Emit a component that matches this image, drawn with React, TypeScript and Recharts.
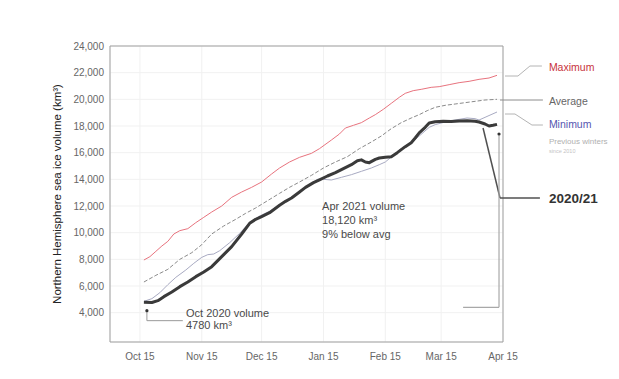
import React from 'react';
import {
    LineChart,
    Line,
    XAxis,
    YAxis,
    CartesianGrid,
    ReferenceArea,
    ReferenceLine,
    ReferenceDot,
} from 'recharts';

// x = days after Oct 15, y = km³
const monthTicks = [0, 31, 61, 92, 123, 151, 182];
const monthLabels = ['Oct 15', 'Nov 15', 'Dec 15', 'Jan 15', 'Feb 15', 'Mar 15', 'Apr 15'];
const volumeTicks = [4000, 6000, 8000, 10000, 12000, 14000, 16000, 18000, 20000, 22000, 24000];

const seasonDays = [2, 6, 9, 12, 16, 20, 24, 28, 32, 36, 41, 46, 51, 55, 58, 61, 65, 70, 73, 76, 80, 83, 87, 90, 94, 98, 102, 106, 109, 111, 113, 115, 118, 120, 123, 126, 129, 133, 136, 138, 140, 143, 145, 148, 152, 156, 160, 164, 168, 170, 173, 175, 177, 179];
const seasonVolume = [4780, 4760, 4900, 5200, 5550, 5950, 6300, 6700, 7050, 7450, 8200, 8950, 9900, 10700, 11000, 11200, 11500, 12050, 12350, 12600, 13050, 13400, 13750, 13960, 14250, 14500, 14800, 15100, 15400, 15460, 15300, 15250, 15500, 15600, 15650, 15700, 16000, 16450, 16750, 17100, 17480, 17900, 18230, 18320, 18350, 18330, 18380, 18400, 18350, 18300, 18150, 18000, 18050, 18120];

const maxDays = [2, 5, 8, 11, 14, 17, 20, 24, 28, 32, 36, 41, 46, 51, 56, 61, 66, 70, 75, 80, 86, 90, 96, 100, 103, 107, 111, 115, 118, 122, 126, 130, 133, 137, 141, 146, 150, 155, 160, 165, 170, 175, 179];
const maxVolume = [7950, 8200, 8600, 9000, 9350, 9900, 10150, 10300, 10750, 11150, 11550, 12000, 12650, 13050, 13400, 13800, 14400, 14850, 15300, 15650, 15950, 16300, 16950, 17400, 17850, 18050, 18250, 18600, 18850, 19250, 19700, 20150, 20450, 20650, 20750, 20900, 20950, 21100, 21250, 21350, 21500, 21600, 21800];

const avgDays = [2, 8, 14, 20, 26, 31, 36, 42, 48, 53, 58, 64, 70, 75, 80, 86, 92, 98, 104, 110, 116, 121, 126, 131, 136, 140, 144, 148, 153, 158, 163, 168, 173, 179];
const avgVolume = [6300, 6800, 7250, 8000, 8500, 9100, 9900, 10500, 11000, 11450, 11850, 12400, 12950, 13400, 13800, 14300, 14850, 15300, 15700, 16300, 16800, 17250, 17800, 18250, 18600, 18850, 19150, 19400, 19550, 19650, 19750, 19850, 19950, 20000];

const minDays = [2, 6, 10, 14, 18, 23, 27, 31, 34, 37, 40, 45, 50, 55, 60, 65, 70, 75, 80, 85, 89, 92, 96, 101, 106, 111, 116, 120, 123, 127, 130, 133, 136, 140, 145, 148, 153, 158, 164, 168, 170, 173, 176, 179];
const minVolume = [4850, 5050, 5500, 6100, 6650, 7200, 7700, 8150, 8350, 8400, 8650, 9250, 9950, 10750, 11250, 11600, 12100, 12550, 13100, 13600, 14000, 14000, 13950, 14150, 14350, 14600, 14850, 15100, 15300, 15800, 16200, 16500, 16750, 17250, 17900, 18100, 18300, 18450, 18600, 18550, 18450, 18650, 18850, 19050];

// annotation paths, in chart units
const maxConnector = [[183, 21750], [189.5, 21750], [195.5, 22500], [201.5, 22500]];
const avgConnector = [[180.5, 19950], [202, 19950]];
const minConnector = [[183, 18900], [188, 18900], [196.5, 18075], [202, 18075]];
const seasonConnector = [[172, 17850], [180.5, 12600], [200.5, 12600]];
const aprConnector = [[180, 17300], [180, 4400], [162, 4400]];
const octConnector = [[3.5, 4050], [3.5, 3400], [21.5, 3400]];
const arrowDots = [[3.5, 4150], [180, 17400]];

const legendTexts = [
    { day: 205, vol: 22425, text: 'Maximum', color: '#c8323c', size: 10.5, weight: 400 },
    { day: 205, vol: 19875, text: 'Average', color: '#666666', size: 10.5, weight: 400 },
    { day: 205, vol: 18150, text: 'Minimum', color: '#5656b0', size: 10.5, weight: 400 },
    { day: 205, vol: 16875, text: 'Previous winters', color: '#b0b0b0', size: 8, weight: 400 },
    { day: 205, vol: 16150, text: 'since 2010', color: '#c4c4c4', size: 5.5, weight: 400 },
    { day: 205, vol: 12600, text: '2020/21', color: '#333333', size: 13.5, weight: 700 },
];
const noteTexts = [
    { day: 91.3, vol: 12000, text: 'Apr 2021 volume' },
    { day: 91.3, vol: 10950, text: '18,120 km³' },
    { day: 91.3, vol: 9900, text: '9% below avg' },
    { day: 23.1, vol: 3975, text: 'Oct 2020 volume' },
    { day: 23.1, vol: 3075, text: '4780 km³' },
];

const toPoints = (days: number[], vols: number[]) => days.map((d, i) => ({ day: d, v: vols[i] }));

const segments = (path: number[][]) =>
    path.slice(1).map((p, i) => [
        { x: path[i][0], y: path[i][1] },
        { x: p[0], y: p[1] },
    ]);

export default function App() {
    const connectors = [
        { path: maxConnector, color: '#b4b4b4', width: 1 },
        { path: avgConnector, color: '#8c8c8c', width: 1 },
        { path: minConnector, color: '#b4b4b4', width: 1 },
        { path: seasonConnector, color: '#505050', width: 1.5 },
        { path: aprConnector, color: '#a8a8a8', width: 1.2 },
        { path: octConnector, color: '#9a9a9a', width: 1 },
    ];

    return (
        <div style={{ position: 'fixed', left: 0, top: 0, width: 619, height: 379, background: '#fff' }}>
            <LineChart
                width={619}
                height={379}
                margin={{ top: 46, right: 116, bottom: 0, left: 50 }}
                style={{ fontFamily: '"Liberation Sans", Arial, sans-serif' }}
            >
                <CartesianGrid stroke="#f1f1f1" />
                <XAxis
                    type="number"
                    dataKey="day"
                    domain={[-15, 182]}
                    ticks={monthTicks}
                    tickFormatter={(d: number) => monthLabels[monthTicks.indexOf(d)]}
                    allowDataOverflow
                    axisLine={false}
                    tickLine={false}
                    tickMargin={5}
                    height={37}
                    tick={{ fontSize: 10, fill: '#666' }}
                />
                <YAxis
                    type="number"
                    domain={[1800, 24000]}
                    ticks={volumeTicks}
                    tickFormatter={(v: number) => v.toLocaleString('en-US')}
                    allowDataOverflow
                    axisLine={false}
                    tickLine={false}
                    tickSize={4}
                    tickMargin={2}
                    width={60}
                    tick={{ fontSize: 10, fill: '#666' }}
                    label={{
                        value: 'Northern Hemisphere sea ice volume (km³)',
                        angle: -90,
                        position: 'insideLeft',
                        offset: 7,
                        fill: '#222',
                        fontSize: 11.5,
                        style: { textAnchor: 'middle' },
                    }}
                />
                <ReferenceArea
                    x1={-15}
                    x2={182}
                    y1={1800}
                    y2={24000}
                    fill="none"
                    fillOpacity={0}
                    stroke="#a0a0a0"
                    ifOverflow="visible"
                />

                <Line data={toPoints(maxDays, maxVolume)} dataKey="v" type="linear" stroke="#e8737e" strokeWidth={1} dot={false} isAnimationActive={false} />
                <Line data={toPoints(avgDays, avgVolume)} dataKey="v" type="linear" stroke="#8a8a8a" strokeWidth={1} strokeDasharray="4 2" dot={false} isAnimationActive={false} />
                <Line data={toPoints(minDays, minVolume)} dataKey="v" type="linear" stroke="#a8aac2" strokeWidth={1} dot={false} isAnimationActive={false} />
                <Line data={toPoints(seasonDays, seasonVolume)} dataKey="v" type="linear" stroke="#3a3a3a" strokeWidth={3} strokeLinejoin="round" dot={false} isAnimationActive={false} />

                {/* connector lines */}
                {connectors.map((c, ci) =>
                    segments(c.path).map((seg, si) => (
                        <ReferenceLine
                            key={`c${ci}-${si}`}
                            segment={seg}
                            stroke={c.color}
                            strokeWidth={c.width}
                            ifOverflow="visible"
                        />
                    ))
                )}
                {arrowDots.map(([d, v], i) => (
                    <ReferenceDot key={`a${i}`} x={d} y={v} r={1.6} fill="#333" stroke="none" ifOverflow="visible" />
                ))}

                {/* labels */}
                {legendTexts.map((t, i) => (
                    <ReferenceDot
                        key={`l${i}`}
                        x={t.day}
                        y={t.vol}
                        r={0}
                        stroke="none"
                        fill="none"
                        ifOverflow="visible"
                        label={{ value: t.text, position: 'right', offset: 0, fill: t.color, fontSize: t.size, fontWeight: t.weight }}
                    />
                ))}
                {noteTexts.map((t, i) => (
                    <ReferenceDot
                        key={`n${i}`}
                        x={t.day}
                        y={t.vol}
                        r={0}
                        stroke="none"
                        fill="none"
                        ifOverflow="visible"
                        label={{ value: t.text, position: 'right', offset: 0, fill: '#4a4a4a', fontSize: 11 }}
                    />
                ))}
            </LineChart>
        </div>
    );
}
